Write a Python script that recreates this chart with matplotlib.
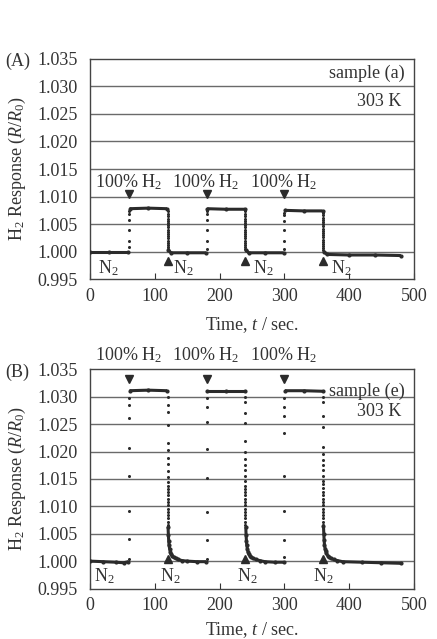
import matplotlib
matplotlib.use("Agg")
import matplotlib.pyplot as plt

plt.rcParams['font.family'] = ['Liberation Serif', 'DejaVu Serif']
plt.rcParams['mathtext.fontset'] = 'custom'
plt.rcParams['mathtext.rm'] = 'Liberation Serif'
plt.rcParams['mathtext.it'] = 'Liberation Serif:italic'

INK = '#2b2b2b'

# ---- panel (A): sample (a) ----
# flat parts (time, response), drawn as a thick band
a_flat_t = [[0, 30, 59], [61, 90, 119], [121, 125, 150, 179],
            [181, 210, 239], [241, 245, 270, 299], [301, 330, 359],
            [361, 366, 400, 440, 480]]
a_flat_r = [[1.0000, 1.0000, 1.0000], [1.0078, 1.0079, 1.0078],
            [1.0003, 0.9998, 0.9998, 0.9998], [1.0078, 1.0077, 1.0077],
            [1.0003, 0.9998, 0.9998, 0.9998], [1.0075, 1.0074, 1.0074],
            [1.0000, 0.9995, 0.9994, 0.9994, 0.9993]]
# switching points
a_rise_t = [60, 180, 300]
a_rise_r = [[1.0008, 1.0020, 1.0040, 1.0058, 1.0068, 1.0074],
            [1.0004, 1.0020, 1.0040, 1.0058, 1.0068, 1.0074],
            [1.0004, 1.0020, 1.0040, 1.0056, 1.0066, 1.0071]]
a_fall_t = [120, 240, 360]
a_fall_r = [[1.0074, 1.0069, 1.0064, 1.0060, 1.0056, 1.0052, 1.0048, 1.0044, 1.0040,
             1.0036, 1.0032, 1.0028, 1.0024, 1.0020, 1.0016, 1.0012, 1.0008, 1.0005],
            [1.0073, 1.0068, 1.0064, 1.0060, 1.0056, 1.0052, 1.0048, 1.0044, 1.0040,
             1.0036, 1.0032, 1.0028, 1.0024, 1.0020, 1.0016, 1.0012, 1.0008, 1.0005],
            [1.0071, 1.0066, 1.0062, 1.0058, 1.0054, 1.0050, 1.0046, 1.0042, 1.0038,
             1.0034, 1.0030, 1.0026, 1.0022, 1.0018, 1.0014, 1.0010, 1.0006, 1.0003]]

# ---- panel (B): sample (e) ----
b_flat_t = [[0, 20, 40, 52, 59], [61, 90, 119],
            [120.5, 121, 121.5, 122, 123, 124, 125, 127, 129, 132, 136, 142, 150, 165, 179],
            [181, 210, 239],
            [240.5, 241, 241.5, 242, 243, 244, 245, 247, 249, 252, 256, 262, 270, 285, 299],
            [301, 330, 359],
            [360.5, 361, 361.5, 362, 363, 364, 365, 367, 369, 372, 376, 382, 390, 420, 450, 480]]
b_flat_r = [[1.0000, 0.9999, 0.9998, 0.9997, 0.9999], [1.0311, 1.0312, 1.0311],
            [1.0062, 1.0047, 1.0037, 1.0029, 1.0022, 1.0017, 1.0013, 1.0010, 1.0007,
             1.0005, 1.0003, 1.0001, 1.0000, 0.9999, 0.9999],
            [1.0311, 1.0311, 1.0311],
            [1.0062, 1.0047, 1.0037, 1.0029, 1.0022, 1.0017, 1.0013, 1.0010, 1.0007,
             1.0005, 1.0003, 1.0001, 0.9999, 0.9998, 0.9998],
            [1.0311, 1.0311, 1.0310],
            [1.0064, 1.0049, 1.0038, 1.0030, 1.0023, 1.0018, 1.0014, 1.0010, 1.0007,
             1.0005, 1.0003, 1.0001, 0.9999, 0.9998, 0.9997, 0.9996]]
b_rise_t = [60, 180, 300]
b_rise_r = [[1.0004, 1.0040, 1.0091, 1.0155, 1.0207, 1.0262, 1.0285, 1.0298],
            [1.0004, 1.0038, 1.0089, 1.0151, 1.0205, 1.0253, 1.0282, 1.0298],
            [1.0007, 1.0038, 1.0091, 1.0156, 1.0233, 1.0264, 1.0282, 1.0298]]
b_fall_t = [120, 240, 360]
b_fall_r = [[1.0300, 1.0285, 1.0273, 1.0249, 1.0216, 1.0202, 1.0189, 1.0178, 1.0165, 1.0153,
             1.0144, 1.0138, 1.0132, 1.0126, 1.0120, 1.0114, 1.0108, 1.0102, 1.0096,
             1.0090, 1.0084, 1.0078, 1.0072, 1.0066],
            [1.0300, 1.0290, 1.0270, 1.0252, 1.0220, 1.0200, 1.0186, 1.0175, 1.0166, 1.0155,
             1.0146, 1.0138, 1.0132, 1.0126, 1.0120, 1.0114, 1.0108, 1.0102, 1.0096,
             1.0090, 1.0084, 1.0078, 1.0072, 1.0066],
            [1.0300, 1.0291, 1.0264, 1.0244, 1.0209, 1.0195, 1.0184, 1.0175, 1.0166, 1.0156,
             1.0147, 1.0140, 1.0133, 1.0126, 1.0120, 1.0114, 1.0108, 1.0102, 1.0096,
             1.0090, 1.0084, 1.0078, 1.0072, 1.0066]]

yticks = [0.995, 1.000, 1.005, 1.010, 1.015, 1.020, 1.025, 1.030, 1.035]
ytick_labels = ['0.995', '1.000', '1.005', '1.010', '1.015', '1.020', '1.025', '1.030', '1.035']
xticks = [0, 100, 200, 300, 400, 500]

# annotation heights per panel
panels = [
    dict(tag='(A)', sample='sample (a)', flat_t=a_flat_t, flat_r=a_flat_r,
         rise_t=a_rise_t, rise_r=a_rise_r, fall_t=a_fall_t, fall_r=a_fall_r,
         down_y=1.0104, up_y=0.9984, h2_y=1.0126, n2_y=0.9971,
         n2_x=[12, 128, 251, 372], n2_ha='left', sample_y=1.0323, temp_y=1.0272),
    dict(tag='(B)', sample='sample (e)', flat_t=b_flat_t, flat_r=b_flat_r,
         rise_t=b_rise_t, rise_r=b_rise_r, fall_t=b_fall_t, fall_r=b_fall_r,
         down_y=1.0332, up_y=1.0003, h2_y=1.0375, n2_y=0.9972,
         n2_x=[22, 124, 243, 361], n2_ha='center', sample_y=1.0310, temp_y=1.0273),
]

fig = plt.figure(figsize=(4.37, 6.39), dpi=100)
boxes = [[0.206, 0.563, 0.741, 0.345], [0.206, 0.079, 0.741, 0.343]]
label_y = [325, 630]

for p, box, ly in zip(panels, boxes, label_y):
    ax = fig.add_axes(box)
    ax.set_xlim(0, 500)
    ax.set_ylim(0.995, 1.035)
    ax.set_yticks(yticks)
    ax.set_yticklabels(ytick_labels)
    ax.set_xticks(xticks)
    ax.tick_params(axis='y', length=0, pad=9, labelsize=13, colors='#333333')
    ax.tick_params(axis='x', direction='in', length=4, width=0.8, pad=6,
                   labelsize=13, colors='#333333')
    for s in ax.spines.values():
        s.set_color('#444444')
        s.set_linewidth(1.0)
    for y in yticks[1:-1]:
        ax.axhline(y, color='#6a6a6a', lw=1.0, zorder=0)

    for t, r in zip(p['flat_t'], p['flat_r']):
        ax.plot(t, r, '-', color=INK, lw=2.2, solid_capstyle='butt', zorder=3)
        ax.plot(t, r, 'o', color=INK, ms=2, zorder=3)
    for t, r in zip(p['rise_t'], p['rise_r']):
        ax.plot([t] * len(r), r, 'o', color=INK, ms=2.2, mew=0, zorder=3)
    for t, r in zip(p['fall_t'], p['fall_r']):
        ax.plot([t] * len(r), r, 'o', color=INK, ms=2.2, mew=0, zorder=3)

    ax.plot(p['rise_t'], [p['down_y']] * 3, 'v', color=INK, ms=6, zorder=4,
            clip_on=False)
    ax.plot(p['fall_t'], [p['up_y']] * 3, '^', color=INK, ms=6, zorder=4)
    for t in p['rise_t']:
        ax.text(t - 1, p['h2_y'], '100% H$_2$', ha='center', va='center',
                fontsize=13, color='#333333')
    for x in p['n2_x']:
        ax.text(x, p['n2_y'], 'N$_2$', ha=p['n2_ha'], va='center',
                fontsize=13, color='#333333')
    ax.text(486, p['sample_y'], p['sample'], ha='right', va='center',
            fontsize=13, color='#333333')
    ax.text(481, p['temp_y'], '303 K', ha='right', va='center',
            fontsize=13, color='#333333')

    top_px = (1 - box[1] - box[3]) * 639
    mid_px = top_px + box[3] * 639 / 2
    fig.text(5 / 437, 1 - (top_px + 3) / 639, p['tag'], ha='left', va='center',
             fontsize=13, color='#333333')
    fig.text(17 / 437, 1 - mid_px / 639, 'H$_2$ Response ($R$/$R_0$)',
             rotation=90, ha='center', va='center', fontsize=13, color='#333333')
    fig.text((box[0] + box[2] / 2), 1 - ly / 639, 'Time, $t$ / sec.',
             ha='center', va='center', fontsize=13, color='#333333')

fig.savefig('out.png', dpi=100)
